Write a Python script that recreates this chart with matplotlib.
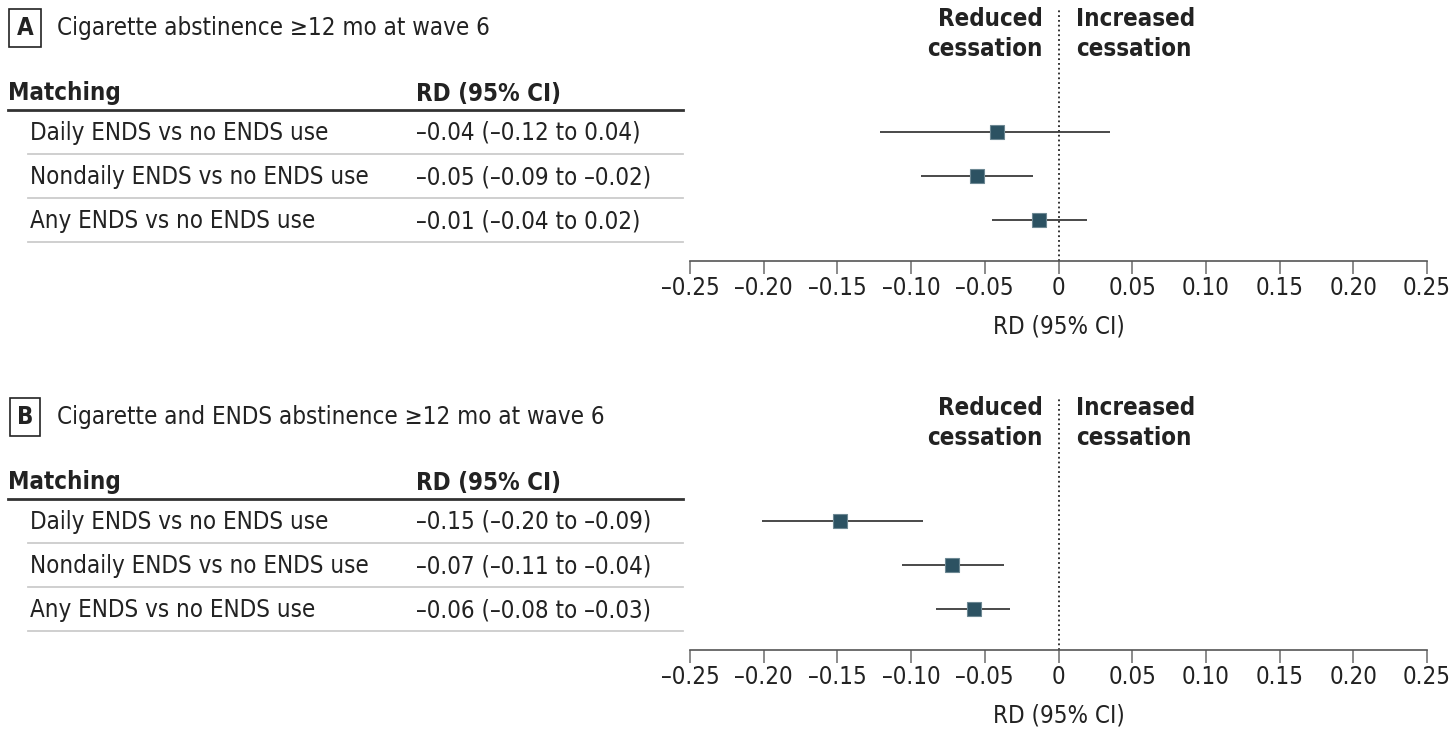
import matplotlib
matplotlib.use("Agg")
import matplotlib.pyplot as plt
from matplotlib.transforms import blended_transform_factory

plt.rcParams['font.family'] = ['DejaVu Sans']
plt.rcParams['font.stretch'] = 'condensed'

# Dados
labels = ['Daily ENDS vs no ENDS use', 'Nondaily ENDS vs no ENDS use', 'Any ENDS vs no ENDS use']
titles = ['Cigarette abstinence ≥12 mo at wave 6',
          'Cigarette and ENDS abstinence ≥12 mo at wave 6']
letters = ['A', 'B']

rd_a = [-0.042, -0.055, -0.013]
lo_a = [-0.121, -0.093, -0.045]
hi_a = [0.035, -0.017, 0.019]
txt_a = ['–0.04 (–0.12 to 0.04)', '–0.05 (–0.09 to –0.02)', '–0.01 (–0.04 to 0.02)']

rd_b = [-0.148, -0.072, -0.057]
lo_b = [-0.201, -0.106, -0.083]
hi_b = [-0.092, -0.037, -0.033]
txt_b = ['–0.15 (–0.20 to –0.09)', '–0.07 (–0.11 to –0.04)', '–0.06 (–0.08 to –0.03)']

ticks = [-0.25, -0.20, -0.15, -0.10, -0.05, 0, 0.05, 0.10, 0.15, 0.20, 0.25]
tick_labels = ['–0.25', '–0.20', '–0.15', '–0.10', '–0.05', '0',
               '0.05', '0.10', '0.15', '0.20', '0.25']

W, H = 1456, 732
fs = 17.3
sq_color = '#2c5262'

fig = plt.figure(figsize=(W / 100, H / 100), dpi=100)


def px(x):
    return x / W


panels = [(titles[0], letters[0], rd_a, lo_a, hi_a, txt_a, 0),
          (titles[1], letters[1], rd_b, lo_b, hi_b, txt_b, 389)]

for title, letter, rd, lo, hi, txt, off in panels:
    top, bot = 8 + off, 261 + off
    ax = fig.add_axes([690 / W, 1 - bot / H, (1427 - 690) / W, (bot - top) / H])
    ax.set_xlim(-0.25, 0.25)
    ax.set_ylim(2.92, -2.81)
    rows = list(range(len(labels)))

    ax.hlines(rows, lo, hi, color='#3a3a3a', lw=1.3, zorder=2)
    ax.plot(rd, rows, 's', color=sq_color, ms=10, mec='#6d8893', mew=0.8, zorder=3)
    ax.axvline(0, color='#222222', ls=':', lw=1.3, zorder=1)

    for s in ['top', 'left', 'right']:
        ax.spines[s].set_visible(False)
    ax.spines['bottom'].set_color('#555555')
    ax.spines['bottom'].set_linewidth(1.2)
    ax.set_yticks([])
    ax.set_xticks(ticks)
    ax.set_xticklabels(tick_labels, fontsize=fs, color='#222222')
    ax.tick_params(axis='x', length=9, width=1.2, color='#777777', pad=2)
    ax.set_xlabel('RD (95% CI)', fontsize=fs, color='#222222', labelpad=10)

    tr = blended_transform_factory(fig.transFigure, ax.transData)
    kw = dict(transform=tr, clip_on=False, fontsize=fs, color='#222222')

    # titulo
    ax.text(px(25), -2.36, letter, ha='center', va='center', fontweight='bold',
            bbox=dict(boxstyle='square,pad=0.3', fc='white', ec='#222222', lw=1.2), **kw)
    ax.text(px(57), -2.36, title, ha='left', va='center', **kw)

    # cabeçalho
    ax.text(px(8), -0.89, 'Matching', ha='left', va='center', fontweight='bold', **kw)
    ax.text(px(416), -0.86, 'RD (95% CI)', ha='left', va='center', fontweight='bold', **kw)
    ax.plot([px(8), px(683)], [-0.5, -0.5], transform=tr, clip_on=False,
            color='#333333', lw=2)

    ax.text(px(1043), -2.22, 'Reduced\ncessation', ha='right', va='center',
            fontweight='bold', linespacing=1.35, **kw)
    ax.text(px(1076), -2.22, 'Increased\ncessation', ha='left', va='center',
            fontweight='bold', linespacing=1.35, **kw)

    for i in rows:
        ax.text(px(30), i + 0.02, labels[i], ha='left', va='center', **kw)
        ax.text(px(416), i + 0.02, txt[i], ha='left', va='center', **kw)
        ax.plot([px(28), px(683)], [i + 0.5, i + 0.5], transform=tr, clip_on=False,
                color='#cccccc', lw=1.3)

fig.savefig('out.png', dpi=100)
